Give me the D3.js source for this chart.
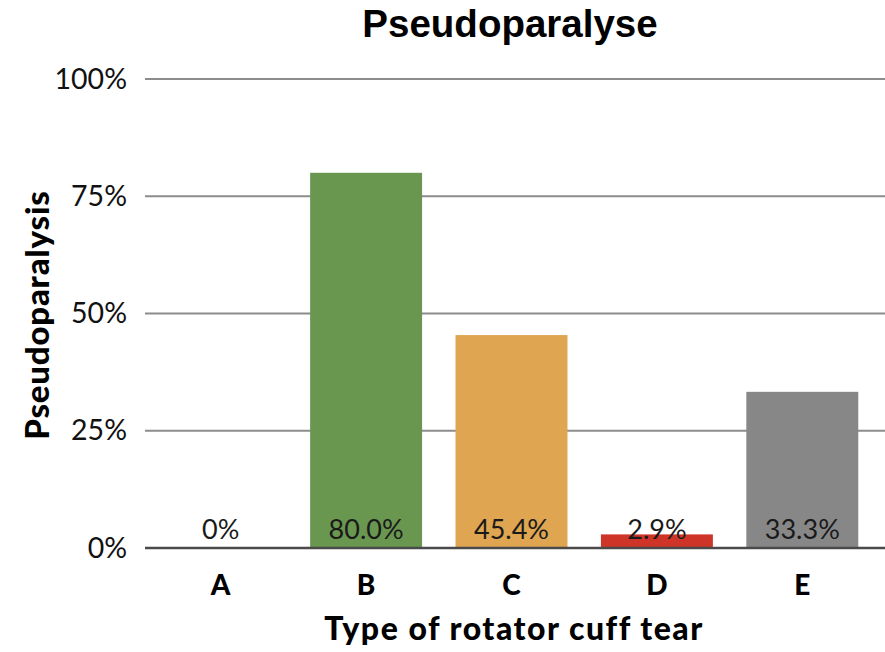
<!DOCTYPE html>
<html>
<head>
<meta charset="utf-8">
<script src="https://cdn.jsdelivr.net/npm/d3@7"></script>
<style>
  body { margin: 0; background: #fff; }
</style>
</head>
<body>
<div id="chart"></div>
<script>
// données du graphique
const categories = ["A", "B", "C", "D", "E"];
const values = [0, 80.0, 45.4, 2.9, 33.3];
const valueLabels = ["0%", "80.0%", "45.4%", "2.9%", "33.3%"];
const barColors = ["#888888", "#6a9750", "#dfa551", "#cf3428", "#878787"];
const yTicks = [0, 25, 50, 75, 100];

const W = 885, H = 652;

const svg = d3.select("#chart").append("svg")
    .attr("width", W)
    .attr("height", H)
    .attr("font-family", "Lato, sans-serif");

const x = d3.scaleBand()
    .domain(categories)
    .range([148, 875])
    .paddingInner(0.23)
    .paddingOuter(0.115);

const y = d3.scaleLinear()
    .domain([0, 100])
    .range([548, 79]);

// lignes de grille
svg.append("g")
    .selectAll("line")
    .data(yTicks.filter(t => t > 0))
    .enter().append("line")
    .attr("x1", 145)
    .attr("x2", W)
    .attr("y1", d => y(d))
    .attr("y2", d => y(d))
    .attr("stroke", "#8c8c8c")
    .attr("stroke-width", 2);

// labels de l'axe Y
const yAxis = svg.append("g")
    .attr("transform", "translate(127,0)")
    .call(d3.axisLeft(y).tickValues(yTicks).tickSize(0).tickPadding(0).tickFormat(d => d + "%"));
yAxis.select(".domain").remove();
yAxis.selectAll("text")
    .attr("font-family", "Lato, sans-serif")
    .attr("font-size", 28.5)
    .attr("fill", "#111");

// barres
svg.append("g")
    .selectAll("rect")
    .data(values)
    .enter().append("rect")
    .attr("x", (d, i) => x(categories[i]))
    .attr("y", d => y(d))
    .attr("width", x.bandwidth())
    .attr("height", d => y(0) - y(d))
    .attr("fill", (d, i) => barColors[i]);

// ligne de base
svg.append("line")
    .attr("x1", 145)
    .attr("x2", W)
    .attr("y1", y(0))
    .attr("y2", y(0))
    .attr("stroke", "#4a4a4a")
    .attr("stroke-width", 2.5);

// valeurs dans les barres
svg.append("g")
    .selectAll("text")
    .data(valueLabels)
    .enter().append("text")
    .attr("x", (d, i) => x(categories[i]) + x.bandwidth() / 2)
    .attr("y", 539)
    .attr("text-anchor", "middle")
    .attr("font-size", 27)
    .attr("fill", "#1a1a1a")
    .text(d => d);

// axe X (catégories)
const xAxis = svg.append("g")
    .attr("transform", `translate(0,${y(0)})`)
    .call(d3.axisBottom(x).tickSize(0).tickPadding(27));
xAxis.select(".domain").remove();
xAxis.selectAll("text")
    .attr("font-family", "Lato, sans-serif")
    .attr("font-weight", 900)
    .attr("font-size", 28)
    .attr("fill", "#000");

// titre
svg.append("text")
    .attr("x", 510)
    .attr("y", 37)
    .attr("text-anchor", "middle")
    .attr("font-family", "'Liberation Sans', Arial, sans-serif")
    .attr("font-weight", "bold")
    .attr("font-size", 38.5)
    .text("Pseudoparalyse");

svg.append("text")
    .attr("x", 514)
    .attr("y", 640)
    .attr("text-anchor", "middle")
    .attr("font-weight", 900)
    .attr("font-size", 32)
    .attr("letter-spacing", 1.5)
    .text("Type of rotator cuff tear");

svg.append("text")
    .attr("transform", "translate(49,315) rotate(-90)")
    .attr("text-anchor", "middle")
    .attr("font-weight", 900)
    .attr("font-size", 33)
    .attr("letter-spacing", 0.8)
    .text("Pseudoparalysis");
</script>
</body>
</html>
